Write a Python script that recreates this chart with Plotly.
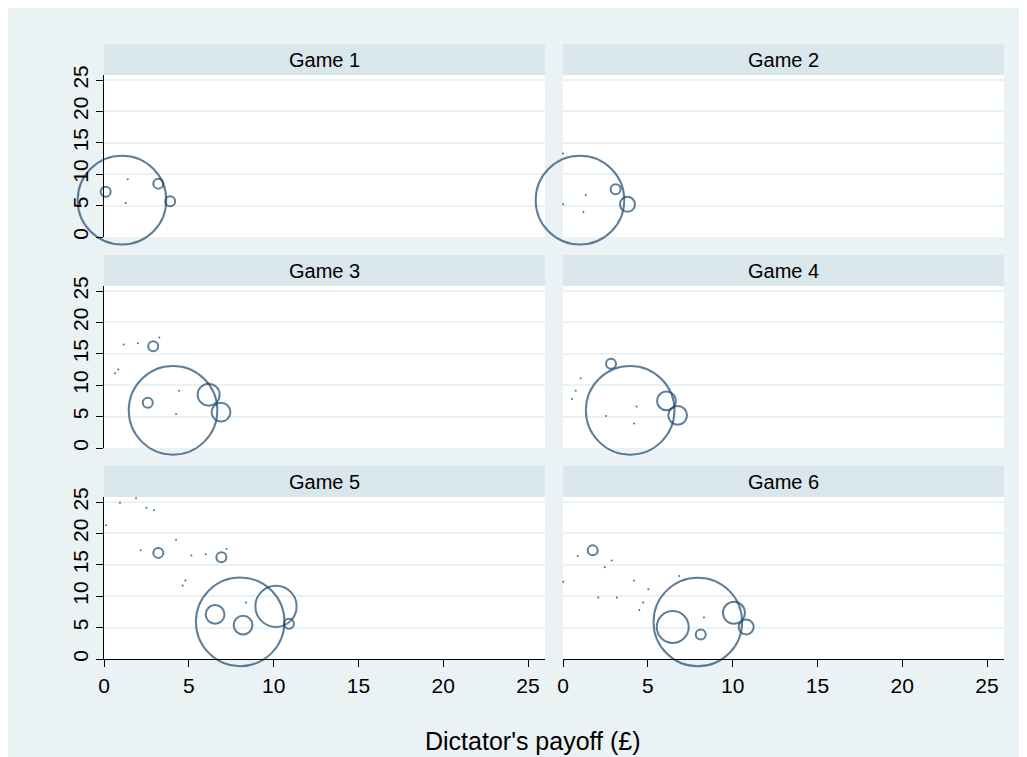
import numpy as np
import plotly.graph_objects as go
from plotly.subplots import make_subplots

# ---------------- data ----------------
games = ["Game 1", "Game 2", "Game 3", "Game 4", "Game 5", "Game 6"]
x_ticks = [0, 5, 10, 15, 20, 25]
y_ticks = [0, 5, 10, 15, 20, 25]

# hollow circles: x = dictator's payoff, y = recipient payoff, w = frequency weight
g1_x = [1.06, 0.1, 3.2, 3.9]
g1_y = [5.87, 7.2, 8.5, 5.7]
g1_w = [57, 1, 1, 1]
g1_dx = [1.4, 1.28]
g1_dy = [9.2, 5.4]

g2_x = [1.0, 3.1, 3.8]
g2_y = [5.87, 7.6, 5.2]
g2_w = [57, 1, 2]
g2_dx = [0.0, 0.0, 1.34, 1.2]
g2_dy = [13.3, 5.2, 6.7, 4.0]

g3_x = [4.07, 2.9, 2.58, 6.17, 6.9]
g3_y = [6.0, 16.2, 7.2, 8.5, 5.7]
g3_w = [57, 1, 1, 4, 3]
g3_dx = [1.16, 2.0, 3.26, 0.84, 0.65, 4.42, 4.25]
g3_dy = [16.5, 16.7, 17.6, 12.5, 11.9, 9.1, 5.4]

g4_x = [3.96, 2.83, 6.1, 6.76]
g4_y = [6.0, 13.4, 7.5, 5.2]
g4_w = [57, 1, 3, 3]
g4_dx = [1.04, 0.75, 0.53, 4.34, 2.54, 4.19]
g4_dy = [11.1, 9.1, 7.8, 6.6, 5.1, 3.9]

g5_x = [8.03, 3.2, 6.92, 6.55, 8.2, 10.14, 10.9]
g5_y = [5.92, 16.9, 16.2, 7.1, 5.4, 8.4, 5.6]
g5_w = [57, 1, 1, 3, 3, 13, 1]
g5_dx = [0.94, 1.89, 2.5, 2.95, 0.12, 4.25, 2.16, 5.15, 6.0, 7.23, 4.8, 4.64, 8.37]
g5_dy = [24.9, 25.6, 24.1, 23.7, 21.3, 19.0, 17.3, 16.5, 16.7, 17.5, 12.5, 11.7, 9.0]

g6_x = [7.95, 1.75, 6.47, 8.12, 10.08, 10.8]
g6_y = [5.9, 17.3, 5.1, 3.9, 7.35, 5.1]
g6_w = [57, 1, 8, 1, 4, 2]
g6_dx = [0.87, 2.87, 2.46, 0.02, 2.08, 3.17, 4.19, 5.03, 4.73, 4.5, 6.84, 8.31]
g6_dy = [16.4, 15.7, 14.6, 12.3, 9.8, 9.8, 12.5, 11.1, 9.0, 7.8, 13.2, 6.6]

circles = [(g1_x, g1_y, g1_w), (g2_x, g2_y, g2_w), (g3_x, g3_y, g3_w),
           (g4_x, g4_y, g4_w), (g5_x, g5_y, g5_w), (g6_x, g6_y, g6_w)]
dots = [(g1_dx, g1_dy), (g2_dx, g2_dy), (g3_dx, g3_dy),
        (g4_dx, g4_dy), (g5_dx, g5_dy), (g6_dx, g6_dy)]

# ---------------- style / layout ----------------
OFF = 8                      # page body margin
W, H = 1027 - OFF, 757 - OFF
BG = "#EAF2F3"
STRIP = "#D9E6EB"
NAVY = "#1A476F"
FONT = "Liberation Sans, Arial, sans-serif"

col_px = [(104, 545), (563, 1004)]
row_px = [(75, 237), (286, 448), (497, 659)]  # (top, bottom) of plot areas (page px)
STRIP_H = 31

def fx(px):
    return (px - OFF) / W

def fy(py):
    return 1 - (py - OFF) / H

fig = make_subplots(rows=3, cols=2)

for i in range(6):
    r, c = i // 2 + 1, i % 2 + 1
    cx, cy, cw = circles[i]
    sizes = [12 * np.sqrt(w) - 2 for w in cw]
    fig.add_trace(go.Scatter(
        x=cx, y=cy, mode="markers", cliponaxis=False, showlegend=False,
        marker=dict(symbol="circle-open", size=sizes, color=NAVY,
                    line=dict(color=NAVY, width=2)),
    ), row=r, col=c)
    dx, dy = dots[i]
    fig.add_trace(go.Scatter(
        x=dx, y=dy, mode="markers", cliponaxis=False, showlegend=False,
        marker=dict(symbol="circle", size=2, color=NAVY, opacity=0.8,
                    line=dict(width=0)),
    ), row=r, col=c)

shapes = []
annotations = []
for i in range(6):
    r, c = i // 2, i % 2
    n = i + 1
    xa = "xaxis" if n == 1 else f"xaxis{n}"
    ya = "yaxis" if n == 1 else f"yaxis{n}"
    x0, x1 = col_px[c]
    top, bot = row_px[r]
    xcfg = dict(domain=[fx(x0), fx(x1)], range=[0, 26], showgrid=False,
                zeroline=False, fixedrange=True, automargin=False)
    if r == 2:
        xcfg.update(showline=True, linecolor="black", linewidth=1,
                    ticks="outside", ticklen=7, tickwidth=1, tickcolor="black",
                    tickvals=x_ticks, showticklabels=True,
                    tickfont=dict(family=FONT, size=21, color="black"),
                    ticklabelstandoff=1)
    else:
        xcfg.update(showline=False, ticks="", showticklabels=False)
    ycfg = dict(domain=[fy(bot), fy(top)], range=[0, 25.8], showgrid=True,
                gridcolor=BG, gridwidth=1.5, tickvals=y_ticks,
                zeroline=False, fixedrange=True, automargin=False)
    if c == 0:
        ycfg.update(showline=True, linecolor="black", linewidth=1,
                    ticks="outside", ticklen=7, tickwidth=1, tickcolor="black",
                    showticklabels=True, tickangle=-90,
                    tickfont=dict(family=FONT, size=21, color="black"),
                    ticklabelstandoff=0)
    else:
        ycfg.update(showline=False, ticks="", showticklabels=False)
    fig.layout[xa].update(xcfg)
    fig.layout[ya].update(ycfg)

    # strip header
    shapes.append(dict(type="rect", xref="paper", yref="paper",
                       x0=fx(x0), x1=fx(x1), y0=fy(top), y1=fy(top - STRIP_H),
                       fillcolor=STRIP, line=dict(width=0), layer="below"))
    annotations.append(dict(text=games[i], xref="paper", yref="paper",
                            x=fx((x0 + x1) / 2), y=fy(top - STRIP_H / 2),
                            xanchor="center", yanchor="middle", showarrow=False,
                            font=dict(family=FONT, size=20, color="black")))

annotations.append(dict(text="Dictator's payoff (£)", xref="paper", yref="paper",
                        x=fx(533), y=fy(741), xanchor="center", yanchor="middle",
                        showarrow=False,
                        font=dict(family=FONT, size=25, color="black")))

fig.update_layout(
    width=W, height=H, autosize=False,
    margin=dict(l=0, r=0, t=0, b=0, pad=0),
    paper_bgcolor=BG, plot_bgcolor="white",
    shapes=shapes, annotations=annotations,
    font=dict(family=FONT, color="black"),
    showlegend=False,
)

fig.write_html("out.html", config={"displayModeBar": False})
